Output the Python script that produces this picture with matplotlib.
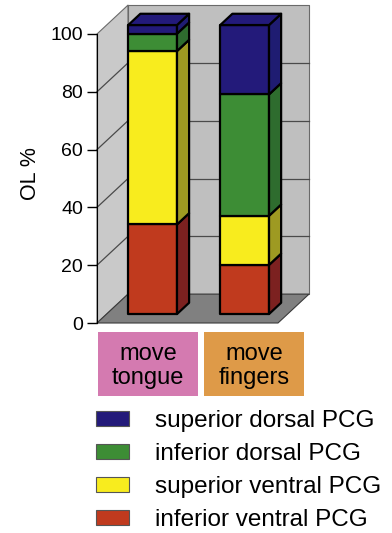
import numpy as np
import matplotlib.pyplot as plt
from matplotlib.patches import Polygon, Rectangle

plt.rcParams['font.family'] = ['Liberation Sans', 'DejaVu Sans']

# data (OL %, stacked bottom -> top)
categories = ['move\ntongue', 'move\nfingers']
regions = ['inferior ventral PCG', 'superior ventral PCG',
           'inferior dorsal PCG', 'superior dorsal PCG']
inf_ventral = [31, 17]
sup_ventral = [60, 17]
inf_dorsal = [6, 42]
sup_dorsal = [3, 24]
series = [inf_ventral, sup_ventral, inf_dorsal, sup_dorsal]

front_colors = ['#c03a1e', '#f8ec1e', '#3d8d35', '#231a7a']
side_colors = ['#7c2120', '#9e9a22', '#2e6c2e', '#1f1c72']
box_colors = ['#d47ab0', '#de9a48']

W, H = 392, 533
fig = plt.figure(figsize=(W / 100, H / 100), dpi=100)
ax = fig.add_axes([97 / W, 1 - 323 / H, 181 / W, 289 / H])
x0, x1 = -0.5, 1.467
ax.set_xlim(x0, x1)
ax.set_ylim(0, 100)

# depth of the fake 3d box, in data units
DX, DY = 0.337, 10.0
F0, F1 = 0.31, 0.70
bar_w = 0.53


def at(x, y, f):
    return (x + f * DX, y + f * DY)


def poly(pts, fc, ec, lw, z):
    p = Polygon(pts, closed=True, facecolor=fc, edgecolor=ec, linewidth=lw,
                zorder=z, clip_on=False, joinstyle='round')
    ax.add_patch(p)


# walls and floor
poly([(x0, 0), (x0, 100), at(x0, 100, 1), at(x0, 0, 1)], '#c9c9c9', '#6a6a6a', 0.8, 1)
poly([at(x0, 0, 1), at(x0, 100, 1), at(x1, 100, 1), at(x1, 0, 1)], '#bfbfbf', '#6a6a6a', 0.8, 1)
poly([(x0, 0), (x1, 0), at(x1, 0, 1), at(x0, 0, 1)], '#808080', '#3a3a3a', 0.8, 2)

for v in range(20, 100, 20):
    ax.plot([x0, at(x0, v, 1)[0]], [v, at(x0, v, 1)[1]], color='#4a4a4a', lw=0.9,
            zorder=1.5, clip_on=False)
    ax.plot([at(x0, v, 1)[0], at(x1, v, 1)[0]], [v + DY, v + DY], color='#4a4a4a',
            lw=0.9, zorder=1.5, clip_on=False)

# stacked 3d bars
for i in range(len(categories)):
    xl, xr = i - bar_w / 2, i + bar_w / 2
    bottom = 0
    for k, vals in enumerate(series):
        y0, y1 = bottom, bottom + vals[i]
        poly([at(xl, y0, F0), at(xr, y0, F0), at(xr, y1, F0), at(xl, y1, F0)],
             front_colors[k], 'black', 1.6, 4)
        poly([at(xr, y0, F0), at(xr, y0, F1), at(xr, y1, F1), at(xr, y1, F0)],
             side_colors[k], 'black', 1.6, 4)
        if k == len(series) - 1:
            poly([at(xl, y1, F0), at(xr, y1, F0), at(xr, y1, F1), at(xl, y1, F1)],
                 front_colors[k], 'black', 1.6, 4)
        bottom = y1

for s in ['top', 'right', 'bottom']:
    ax.spines[s].set_visible(False)
ax.spines['left'].set_zorder(5)
ax.set_xticks([])
ax.set_yticks(range(0, 101, 20))
ax.tick_params(axis='y', length=7, width=1, labelsize=14, pad=3)
ax.set_ylabel('OL %', fontsize=15.5)
ax.yaxis.set_label_coords(-0.31, 0.516)
ax.patch.set_visible(False)

# category boxes under the bars
box_left = [98, 204]
for i, cat in enumerate(categories):
    fig.patches.append(Rectangle((box_left[i] / W, 1 - 396 / H), 100 / W, 64 / H,
                                 transform=fig.transFigure, facecolor=box_colors[i],
                                 edgecolor='none'))
    fig.text((box_left[i] + 50) / W, 1 - 366 / H, cat, ha='center', va='center',
             fontsize=17, linespacing=1.1)

handles = [Rectangle((0, 0), 1, 1, facecolor=front_colors[k], edgecolor='#555555', lw=0.8)
           for k in range(len(series))][::-1]
fig.legend(handles, regions[::-1], loc='upper left', bbox_to_anchor=(96 / W, 1 - 410 / H),
           frameon=False, fontsize=17.5, handlelength=1.36, handleheight=0.55,
           handletextpad=1.05, labelspacing=0.45, borderaxespad=0, borderpad=0)

fig.savefig('out.png', dpi=100)
